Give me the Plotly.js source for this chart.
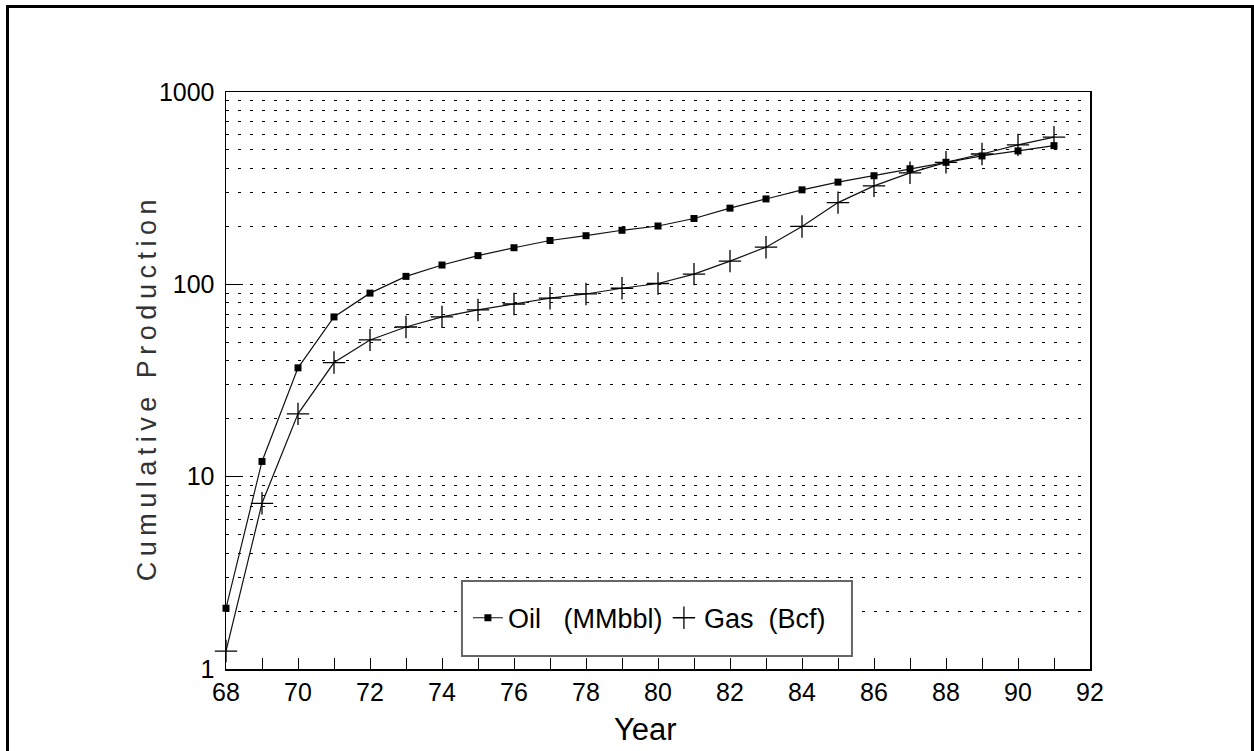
<!DOCTYPE html>
<html>
<head>
<meta charset="utf-8">
<script src="https://cdn.plot.ly/plotly-3.0.1.min.js"></script>
<style>
  html, body { margin: 0; padding: 0; background: #fff; overflow: hidden; }
  #chart { position: absolute; left: 0; top: 0; width: 1254px; height: 751px; }
  #frame { position: absolute; left: 6px; top: 5px; width: 1248px; height: 820px;
           box-sizing: border-box; border: 3px solid #000; border-bottom: none; pointer-events: none; }
  .ytitle-ann .annotation-text { letter-spacing: 5.5px; }
</style>
</head>
<body>
<div id="chart"></div>
<div id="frame"></div>
<script>
// ---- data ----
const years = [68,69,70,71,72,73,74,75,76,77,78,79,80,81,82,83,84,85,86,87,88,89,90,91];
const oilMMbbl = [2.07,12,36.8,67.7,90,110,126,141,155,169,179,191,201,220,249,278,310,340,367,399,431,465,494,526];
const gasBcf   = [1.24,7.27,21.2,39.2,51.4,60,67.7,73.6,79,84.7,89.1,95.4,101,113,132,156,200,266,325,380,431,476,531,582];
const seriesNames = ['Oil\u00a0\u00a0 (MMbbl)', 'Gas\u00a0 (Bcf)'];
const yMajorTicks = [1,10,100,1000];
const yMajorLabels = ['1','10','100','1000'];
const yMinorTicks = [2,3,4,5,6,7,8,9,20,30,40,50,60,70,80,90,200,300,400,500,600,700,800,900];
const xTickVals = [68,70,72,74,76,78,80,82,84,86,88,90,92];
const xTitle = 'Year';
const yTitle = 'Cumulative Production';

const FONT = 'Liberation Sans, Arial, sans-serif';
const DOTS = '2.5px,9.5px';

const traces = [
  {
    x: years, y: oilMMbbl, name: seriesNames[0], type: 'scatter', mode: 'lines+markers',
    line: {color: '#111', width: 1.2},
    marker: {symbol: 'square', size: 7, color: '#000'},
    cliponaxis: false, legendgroup: 'oil'
  },
  {
    x: years, y: gasBcf, name: seriesNames[1], type: 'scatter', mode: 'lines',
    line: {color: '#111', width: 1.2},
    cliponaxis: false, legendgroup: 'gas', showlegend: false
  },
  {
    x: years, y: gasBcf, name: seriesNames[1], type: 'scatter', mode: 'markers',
    marker: {symbol: 'cross-thin', size: 16, color: '#000', line: {color: '#000', width: 1.3}},
    cliponaxis: false, legendgroup: 'gas'
  }
];

const layout = {
  width: 1254, height: 751,
  margin: {l: 226, r: 164, t: 92, b: 82, pad: 0},
  paper_bgcolor: '#fff', plot_bgcolor: '#fff',
  font: {family: FONT, color: '#000'},
  showlegend: true,
  xaxis: {
    range: [68, 92], type: 'linear',
    tickmode: 'array', tickvals: xTickVals,
    ticks: 'inside', ticklen: 11, tickwidth: 1, tickcolor: '#000',
    minor: {dtick: 1, ticks: 'inside', ticklen: 11, tickwidth: 1, tickcolor: '#000', showgrid: false},
    showgrid: false, zeroline: false,
    showline: true, mirror: true, linecolor: '#000', linewidth: 1.5,
    tickfont: {family: FONT, size: 25, color: '#000'},
    ticklabelstandoff: 0
  },
  yaxis: {
    type: 'log', range: [0, 3],
    tickmode: 'array', tickvals: yMajorTicks, ticktext: yMajorLabels,
    ticks: 'inside', ticklen: 17, tickwidth: 1, tickcolor: '#000',
    showgrid: true, gridcolor: '#000', gridwidth: 1, griddash: DOTS,
    minor: {tickmode: 'array', tickvals: yMinorTicks, ticks: '', showgrid: true,
            gridcolor: '#000', gridwidth: 1, griddash: DOTS},
    zeroline: false,
    showline: true, mirror: true, linecolor: '#000', linewidth: 1.5,
    tickfont: {family: FONT, size: 25, color: '#000'},
    ticklabelstandoff: 5
  },
  legend: {
    orientation: 'h', x: 0.28, xanchor: 'left', y: 0.088, yanchor: 'middle',
    bgcolor: 'rgba(0,0,0,0)', borderwidth: 0,
    font: {family: FONT, size: 27, color: '#000'},
    entrywidth: 151, entrywidthmode: 'pixels'
  },
  annotations: [
    {text: xTitle, xref: 'paper', yref: 'paper', x: 0.485, y: -0.104, xanchor: 'center', yanchor: 'middle',
     showarrow: false, font: {family: FONT, size: 31, color: '#000'}},
    {text: yTitle, xref: 'paper', yref: 'paper', x: -0.0914, y: 0.488, xanchor: 'center', yanchor: 'middle',
     textangle: -90, showarrow: false, font: {family: FONT, size: 27, color: '#333'},
     name: 'ytitle'}
  ],
  shapes: [
    {type: 'rect', xref: 'paper', yref: 'paper', x0: 0.2731, x1: 0.7245, y0: 0.0225, y1: 0.1525,
     fillcolor: '#fff', line: {color: '#666', width: 2}, layer: 'above'}
  ]
};

Plotly.newPlot('chart', traces, layout, {staticPlot: true, displayModeBar: false}).then(function () {
  const anns = document.querySelectorAll('.annotation');
  if (anns.length > 1) anns[1].classList.add('ytitle-ann');
});
</script>
</body>
</html>
